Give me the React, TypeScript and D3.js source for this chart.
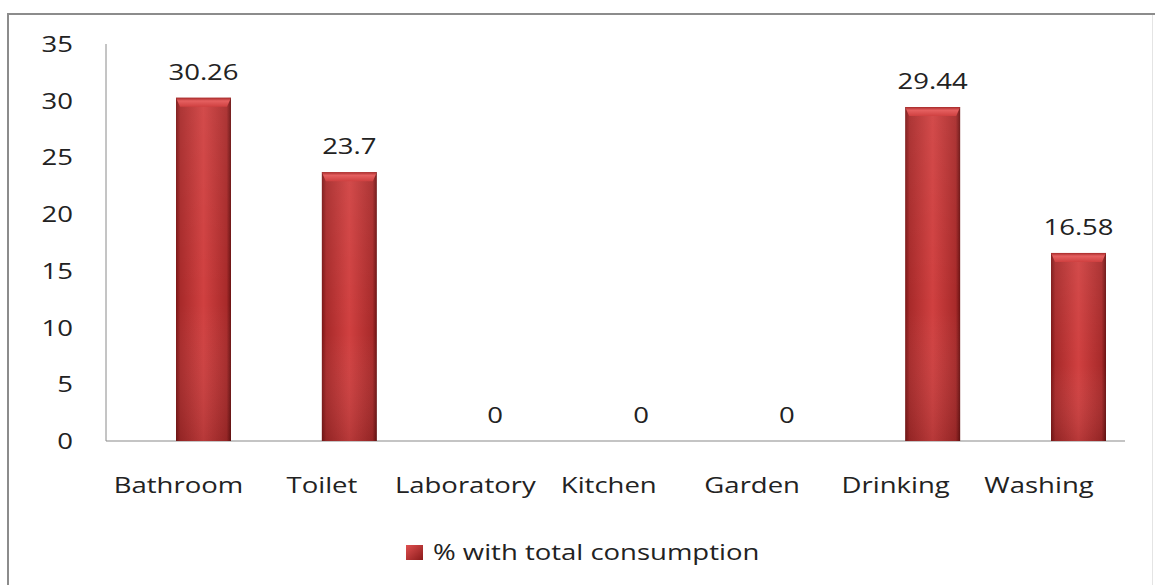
import React from "react";
import * as d3 from "d3";

const categories = ["Bathroom", "Toilet", "Laboratory", "Kitchen", "Garden", "Drinking", "Washing"];
const values = [30.26, 23.7, 0, 0, 0, 29.44, 16.58];
const valueLabels = ["30.26", "23.7", "0", "0", "0", "29.44", "16.58"];
const yTicks = [0, 5, 10, 15, 20, 25, 30, 35];
const seriesName = "% with total consumption";

const W = 1155;
const H = 585;
const FONT = "'Open Sans', 'DejaVu Sans', sans-serif";
const SX = 1.25;
const TEXT = "#222";

export default function App() {
  const y = d3.scaleLinear().domain([0, 35]).range([441, 44]);
  const xBar = d3.scalePoint<string>().domain(categories).range([203.5, 1078.5]);
  const xLab = d3.scalePoint<string>().domain(categories).range([178.5, 1039]);
  const barW = 55;
  const cap = 9;

  const T = (x: number, yy: number, s: string, anchor: string, key?: any) => (
    <text
      key={key}
      transform={`translate(${x},${yy}) scale(${SX},1)`}
      textAnchor={anchor as any}
      fontFamily={FONT}
      fontSize={22}
      fill={TEXT}
    >
      {s}
    </text>
  );

  return (
    <svg width={W} height={H} style={{ position: "absolute", left: 0, top: 0, background: "#fff" }}>
      <defs>
        <linearGradient id="barH" x1="0" x2="1" y1="0" y2="0">
          <stop offset="0" stopColor="#7a1616" />
          <stop offset="0.08" stopColor="#a82a2a" />
          <stop offset="0.5" stopColor="#d04040" />
          <stop offset="0.92" stopColor="#a82a2a" />
          <stop offset="1" stopColor="#6a1212" />
        </linearGradient>
        <linearGradient id="barV" x1="0" x2="0" y1="0" y2="1">
          <stop offset="0" stopColor="#ffffff" stopOpacity="0.06" />
          <stop offset="0.6" stopColor="#ffffff" stopOpacity="0" />
          <stop offset="1" stopColor="#000000" stopOpacity="0.12" />
        </linearGradient>
        <linearGradient id="capG" x1="0" x2="0" y1="0" y2="1">
          <stop offset="0" stopColor="#a72a2a" />
          <stop offset="0.35" stopColor="#e56060" />
          <stop offset="1" stopColor="#cf4040" />
        </linearGradient>
        <linearGradient id="legG" x1="0" x2="1" y1="0" y2="1">
          <stop offset="0" stopColor="#e05050" />
          <stop offset="1" stopColor="#8a1a1a" />
        </linearGradient>
      </defs>

      {/* chart border */}
      <line x1={8} x2={8} y1={13} y2={H} stroke="#8c8c8c" strokeWidth={2} />
      <line x1={7} x2={W} y1={14} y2={14} stroke="#8c8c8c" strokeWidth={2} />
      <line x1={1152.5} x2={1152.5} y1={15} y2={H} stroke="#e4e4e4" strokeWidth={1} />

      {/* axes */}
      <line x1={106} x2={106} y1={y(35)} y2={y(0)} stroke="#8a8a8a" strokeWidth={1} />
      <line x1={106} x2={1125} y1={y(0)} y2={y(0)} stroke="#8a8a8a" strokeWidth={1.2} />

      {yTicks.map((t) => T(73, y(t) + 8, String(t), "end", "yt" + t))}

      {/* bars */}
      {categories.map((c, i) => {
        const v = values[i];
        if (v <= 0) return null;
        const x0 = (xBar(c) as number) - barW / 2;
        const top = y(v);
        const h = y(0) - top;
        return (
          <g key={"b" + c}>
            <rect x={x0} y={top} width={barW} height={h} fill="url(#barH)" />
            <rect x={x0} y={top} width={barW} height={h} fill="url(#barV)" />
            <path
              d={`M${x0},${top} L${x0 + barW},${top} L${x0 + barW - 4},${top + cap} L${x0 + 4},${top + cap} Z`}
              fill="url(#capG)"
            />
          </g>
        );
      })}

      {/* value labels */}
      {categories.map((c, i) => T(xBar(c) as number, y(values[i]) - 18, valueLabels[i], "middle", "v" + c))}

      {/* category labels */}
      {categories.map((c) => T(xLab(c) as number, 493, c, "middle", "c" + c))}

      {/* legend */}
      <rect x={406} y={545} width={17} height={15} fill="url(#legG)" />
      {T(433, 560, seriesName, "start", "leg")}
    </svg>
  );
}
